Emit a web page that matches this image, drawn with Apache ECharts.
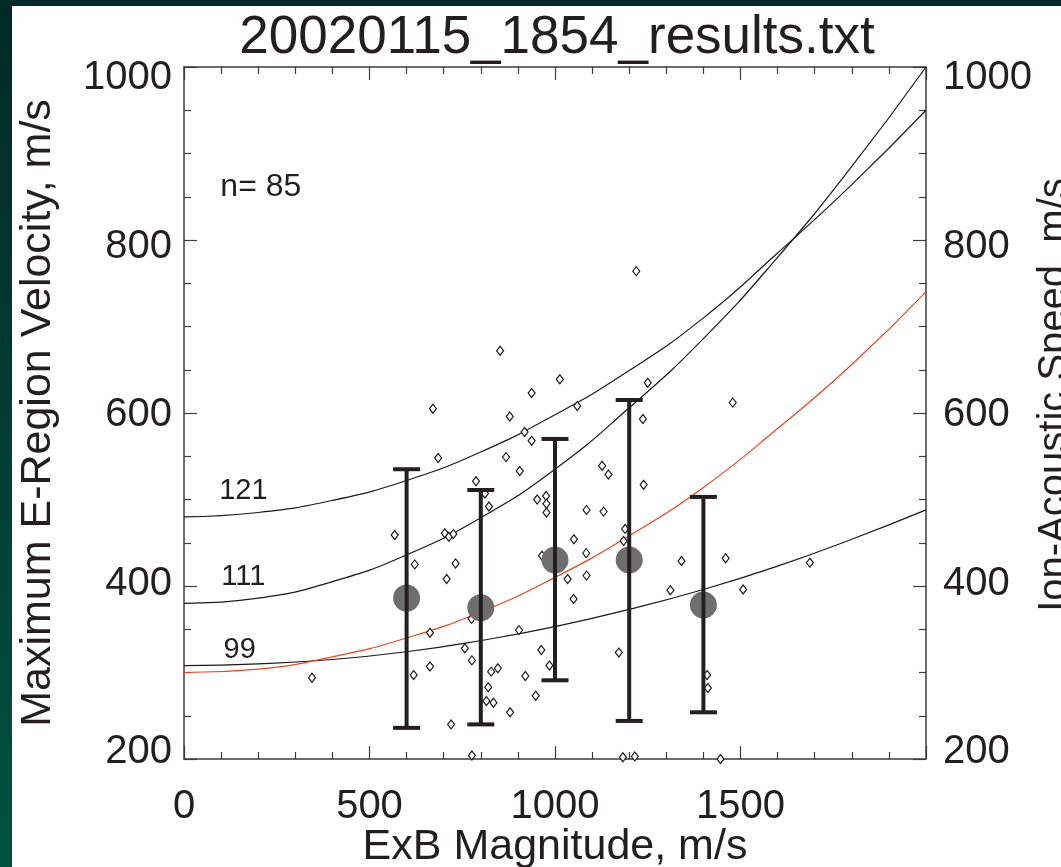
<!DOCTYPE html>
<html>
<head>
<meta charset="utf-8">
<script src="https://cdn.jsdelivr.net/npm/echarts@6/dist/echarts.min.js"></script>
<style>
  html, body { margin: 0; padding: 0; width: 1061px; height: 867px; overflow: hidden;
    background: linear-gradient(to bottom, #002a25 0%, #003b32 45%, #00523f 100%); }
  #chart { position: absolute; left: 12px; top: 6px; width: 1049px; height: 861px; background: #ffffff; }
</style>
</head>
<body>
<div id="chart"></div>
<script>
// Threshold curves vs ExB magnitude (m/s)
const curveX   = [0, 200, 400, 600, 800, 1000, 1200, 1400, 1600, 1800, 2000];
const curve121 = [480, 485, 499, 522, 555, 598, 649, 710, 785, 864, 950];
const curve111 = [380, 386, 405, 436, 479, 535, 606, 686, 780, 885, 1000];
const curve99  = [308, 310, 315, 324, 337, 353, 373, 396, 423, 454, 488];
const curveRed = [300, 304, 318, 340, 370, 410, 458, 514, 582, 656, 740];

// Binned statistics
const binCenters = [600, 800, 1000, 1200, 1400];
const binMeans   = [386, 375, 430, 430, 378];
const binLow     = [236, 240, 291, 244, 254];
const binHigh    = [535, 511, 570, 615, 503];

// Individual samples
const pointX = [345, 685, 568, 622, 732, 708, 703, 714, 726, 852, 1013, 937, 878, 1060, 1250, 1479,
  918, 937, 868, 905, 787, 811, 822, 952, 976, 977, 977, 1237, 1127, 1144, 1239, 1085, 1131, 1051,
  1189, 1185, 1084, 965, 1341, 1460, 1085, 1034, 1050, 775, 663, 903, 757, 776, 663, 619, 828, 846,
  920, 963, 985, 820, 948, 815, 834, 879, 720, 776, 1687, 1311, 1507, 1172, 1410, 1412, 1183, 1215,
  1446, 1219, 671];
const pointY = [294, 548, 459, 425, 426, 408, 461, 457, 460, 672, 639, 623, 596, 608, 635, 612,
  578, 568, 549, 533, 521, 507, 492, 500, 504, 495, 485, 593, 539, 529, 517, 488, 486, 454,
  466, 452, 438, 435, 429, 432, 412, 408, 385, 362, 346, 349, 328, 314, 307, 297, 301, 305,
  296, 326, 308, 283, 273, 267, 265, 254, 240, 204, 427, 395, 396, 323, 297, 282, 202, 203,
  200, 764, 605];

// Curve annotations and sample count
const curveNames = ['121', '111', '99'];
const curveNameX = [160, 160, 150];
const curveNameY = [510, 410, 326];
const countText = 'n= 85';
const countPos = [98, 861];

// Tick labels
const xTicks = [0, 500, 1000, 1500];
const yTicks = [200, 400, 600, 800, 1000];
// The printed value labels sit on a slightly compressed scale relative to the frame ticks
const yLabelRange = [191.7, 1013.1];

const FONT = "'Liberation Sans', Arial, Helvetica, sans-serif";
const INK = '#231f20';
const AXIS = '#3c3c3c';

const zip = (xs, ys) => xs.map((x, i) => [x, ys[i]]);

const chart = echarts.init(document.getElementById('chart'));

const baseX = {
  type: 'value', min: 0, max: 2000, interval: 500, nameMoveOverlap: false,
  axisLine: { show: true, onZero: false, lineStyle: { color: AXIS, width: 1.5 } },
  axisTick: { show: true, inside: true, length: 13, lineStyle: { color: AXIS, width: 1.2 } },
  minorTick: { show: true, splitNumber: 5, length: 7, lineStyle: { color: AXIS, width: 1.2 } },
  splitLine: { show: false }, minorSplitLine: { show: false }
};
const baseY = {
  type: 'value', min: 200, max: 1000, interval: 200, nameMoveOverlap: false,
  axisLine: { show: true, onZero: false, lineStyle: { color: AXIS, width: 1.5 } },
  axisTick: { show: true, inside: true, length: 13, lineStyle: { color: AXIS, width: 1.2 } },
  minorTick: { show: true, splitNumber: 4, length: 7, lineStyle: { color: AXIS, width: 1.2 } },
  splitLine: { show: false }, minorSplitLine: { show: false },
  axisLabel: { show: false }
};
const labelY = (pos, margin) => ({
  type: 'value', position: pos, min: yLabelRange[0], max: yLabelRange[1],
  axisLine: { show: false }, axisTick: { show: false }, splitLine: { show: false },
  axisLabel: { show: true, customValues: yTicks, fontFamily: FONT, fontSize: 40, color: INK,
    margin: margin, formatter: v => String(v) }
});

const textLabel = (size) => ({ show: true, formatter: '{b}', fontFamily: FONT, fontSize: size,
  color: INK, textBorderWidth: 0, opacity: 1 });

const option = {
  animation: false,
  title: {
    text: '20020115_1854_results.txt',
    left: 540, top: 1, textAlign: 'center',
    textStyle: { fontFamily: FONT, fontSize: 53, fontWeight: 'normal', color: INK }
  },
  grid: { left: 172, top: 61, width: 742, height: 692, containLabel: false, outerBoundsMode: 'none' },
  xAxis: [
    Object.assign({}, baseX, {
      position: 'bottom',
      axisLabel: {
        fontFamily: FONT, fontSize: 40, color: INK, margin: 28,
        formatter: v => (xTicks.indexOf(v) >= 0 ? String(v) : '')
      },
      name: 'ExB Magnitude, m/s', nameLocation: 'middle', nameGap: 67,
      nameTextStyle: { fontFamily: FONT, fontSize: 43, color: INK }
    }),
    Object.assign({}, baseX, { position: 'top', axisLabel: { show: false } })
  ],
  yAxis: [
    Object.assign({}, baseY, {
      position: 'left',
      name: 'Maximum E-Region Velocity, m/s', nameLocation: 'middle', nameGap: 124,
      nameTextStyle: { fontFamily: FONT, fontSize: 43, color: INK }
    }),
    Object.assign({}, baseY, {
      position: 'right',
      name: 'Ion-Acoustic Speed, m/s', nameLocation: 'middle', nameGap: 109,
      nameTextStyle: { fontFamily: FONT, fontSize: 40, color: INK, padding: [0, 0, 0, 36] }
    }),
    labelY('left', 12),
    labelY('right', 17)
  ],
  series: [
    { type: 'line', data: zip(curveX, curve121), smooth: true, symbol: 'none', z: 2,
      lineStyle: { color: '#1a1a1a', width: 1.2 } },
    { type: 'line', data: zip(curveX, curve111), smooth: true, symbol: 'none', z: 2,
      lineStyle: { color: '#1a1a1a', width: 1.2 } },
    { type: 'line', data: zip(curveX, curve99), smooth: true, symbol: 'none', z: 2,
      lineStyle: { color: '#1a1a1a', width: 1.2 } },
    { type: 'line', data: zip(curveX, curveRed), smooth: true, symbol: 'none', z: 2,
      lineStyle: { color: '#ee4423', width: 1.2 } },
    { type: 'scatter', data: zip(pointX, pointY), symbol: 'diamond', symbolSize: [7, 9], z: 3,
      itemStyle: { color: '#ffffff', borderColor: '#1a1a1a', borderWidth: 1.2, opacity: 1 } },
    { type: 'scatter', data: zip(binCenters, binMeans), symbol: 'circle', symbolSize: 27, z: 4,
      itemStyle: { color: '#6e6e6e', opacity: 1 } },
    { type: 'custom', z: 5,
      data: binCenters.map((x, i) => [x, binLow[i], binHigh[i]]),
      renderItem: (params, api) => {
        const x = api.value(0);
        const top = api.coord([x, api.value(2)]);
        const bot = api.coord([x, api.value(1)]);
        const cap = 13.5;
        const st = { stroke: INK, lineWidth: 4 };
        return { type: 'group', children: [
          { type: 'line', shape: { x1: top[0], y1: top[1], x2: bot[0], y2: bot[1] }, style: st },
          { type: 'line', shape: { x1: top[0] - cap, y1: top[1], x2: top[0] + cap, y2: top[1] }, style: st },
          { type: 'line', shape: { x1: bot[0] - cap, y1: bot[1], x2: bot[0] + cap, y2: bot[1] }, style: st }
        ] };
      }
    },
    { type: 'scatter', z: 6, symbolSize: 0, silent: true, itemStyle: { opacity: 1 },
      data: curveNames.map((n, i) => ({ name: n, value: [curveNameX[i], curveNameY[i]] })),
      label: Object.assign(textLabel(29), { position: 'inside' }) },
    { type: 'scatter', z: 6, symbolSize: 0, silent: true, itemStyle: { opacity: 1 },
      data: [{ name: countText, value: countPos }],
      label: Object.assign(textLabel(32), { position: 'right', distance: 0 }) }
  ]
};

chart.setOption(option);
</script>
</body>
</html>
